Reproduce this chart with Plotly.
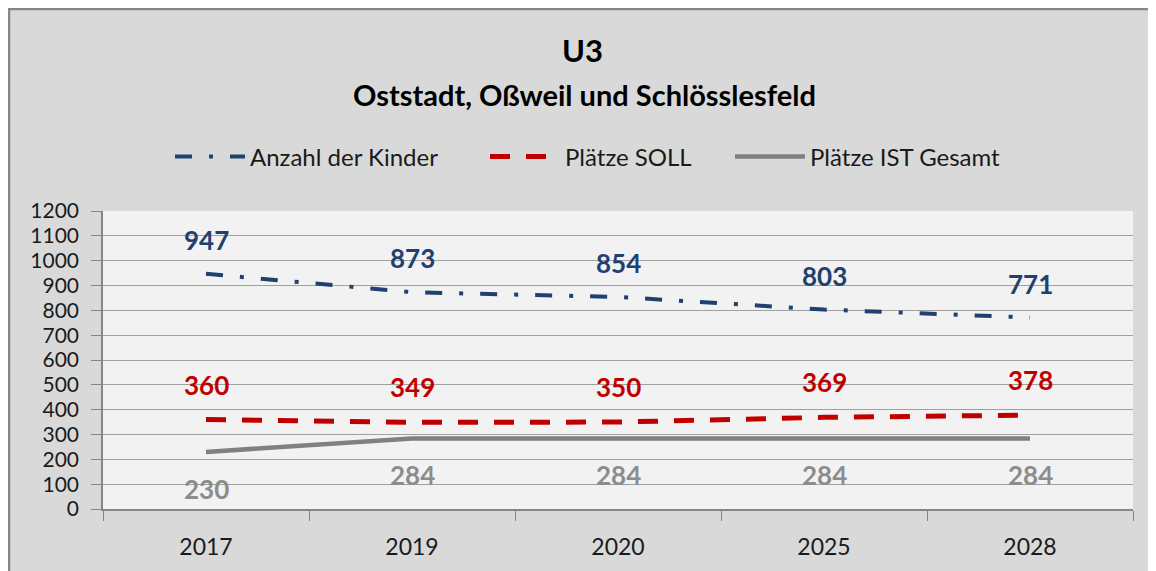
import plotly.graph_objects as go

years = ["2017", "2019", "2020", "2025", "2028"]
kinder = [947, 873, 854, 803, 771]
soll = [360, 349, 350, 369, 378]
ist = [230, 284, 284, 284, 284]

names = ["Anzahl der Kinder", "Plätze SOLL", "Plätze IST Gesamt"]
y_ticks = list(range(0, 1201, 100))

BLUE = "#1F4070"
RED = "#C00000"
GRAY_LINE = "#808080"
GRAY_TXT = "#8C8C8C"
TXT = "#1a1a1a"
FONT = "Lato"

# the page places the figure 8px from the top-left corner of the window
W, H = 1148, 563
L, R, T, B = 95, 23, 203, 62
PW, PH = W - L - R, H - T - B


def px(x):
    return (x - L) / PW


def py(y):
    return (H - B - y) / PH


fig = go.Figure()
fig.add_trace(go.Scatter(x=years, y=kinder, name=names[0], mode="lines", legend="legend",
                         line=dict(color=BLUE, width=4, dash="17px,17px,4px,17px")))
fig.add_trace(go.Scatter(x=years, y=soll, name=names[1], mode="lines", legend="legend2",
                         line=dict(color=RED, width=5, dash="20px,16px")))
fig.add_trace(go.Scatter(x=years, y=ist, name=names[2], mode="lines", legend="legend3",
                         line=dict(color=GRAY_LINE, width=4.5)))

annotations = []
for series, color, shift in [(kinder, BLUE, 34), (soll, RED, 35), (ist, GRAY_TXT, -37)]:
    for i, v in enumerate(series):
        annotations.append(dict(x=i, y=v, xref="x", yref="y", text=f"<b>{v}</b>",
                                showarrow=False, yshift=shift,
                                font=dict(family=FONT, size=26, color=color)))

annotations.append(dict(x=px(574), y=py(42), xref="paper", yref="paper", text="<b>U3</b>",
                        xanchor="center", yanchor="middle",
                        showarrow=False, font=dict(family=FONT, size=31, color="#000000")))
annotations.append(dict(x=px(576), y=py(87), xref="paper", yref="paper",
                        text="<b>Oststadt, Oßweil und Schlösslesfeld</b>",
                        xanchor="center", yanchor="middle",
                        showarrow=False, font=dict(family=FONT, size=29, color="#000000")))

shapes = [
    dict(type="line", xref="paper", yref="paper", x0=px(0), x1=px(W + 20), y0=py(1), y1=py(1),
         line=dict(color="#868686", width=2.5), layer="above"),
    dict(type="line", xref="paper", yref="paper", x0=px(1), x1=px(1), y0=py(H + 20), y1=py(0),
         line=dict(color="#868686", width=2.5), layer="above"),
]

leg_common = dict(orientation="h", xanchor="left", yanchor="middle",
                  bgcolor="rgba(0,0,0,0)", font=dict(family=FONT, size=24, color=TXT),
                  itemwidth=70, borderwidth=0)

fig.update_layout(
    width=W, height=H,
    margin=dict(l=L, r=R, t=T, b=B, pad=0),
    paper_bgcolor="#D9D9D9",
    plot_bgcolor="#F2F2F2",
    font=dict(family=FONT, size=23, color=TXT),
    showlegend=True,
    legend=dict(x=px(162), y=py(149), **leg_common),
    legend2=dict(x=px(477), y=py(149), **leg_common),
    legend3=dict(x=px(722), y=py(149), **leg_common),
    annotations=annotations,
    shapes=shapes,
    xaxis=dict(type="category", showgrid=False, showline=True, linecolor="#868686",
               linewidth=1.5, ticks="outside", tickson="boundaries", ticklen=10,
               tickcolor="#868686", tickfont=dict(family=FONT, size=23, color=TXT),
               ticklabelstandoff=17, range=[-0.5, 4.5]),
    yaxis=dict(range=[0, 1200], tickvals=y_ticks, showgrid=True, gridcolor="#A0A0A0",
               gridwidth=1, showline=True, linecolor="#868686", linewidth=1.5,
               ticks="outside", ticklen=10, tickcolor="#868686", zeroline=False,
               tickfont=dict(family=FONT, size=21, color=TXT), ticklabelstandoff=8),
)

fig.write_html("out.html")
